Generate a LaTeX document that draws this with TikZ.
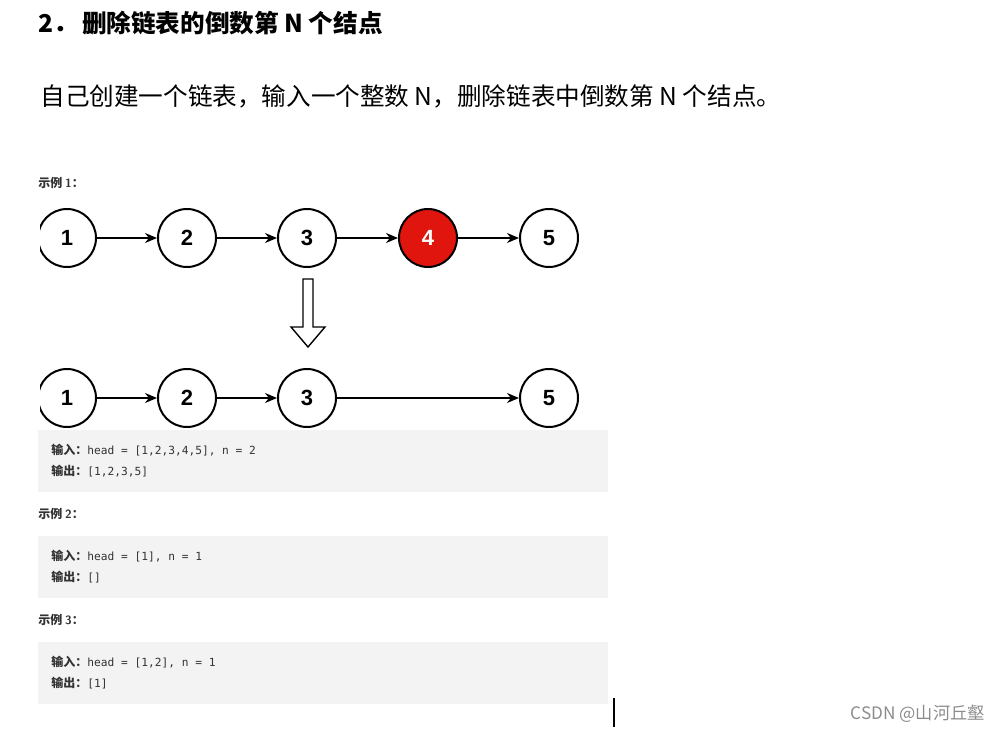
\documentclass[tikz,border=0pt]{standalone}
\usepackage{fontspec}
\setmainfont{Liberation Sans}
\setmonofont{DejaVu Sans Mono}
\newfontfamily\cjk{Noto Sans CJK SC}
\usetikzlibrary{arrows.meta,positioning}

\definecolor{boxgray}{HTML}{F3F3F3}
\definecolor{nodered}{HTML}{E0160E}
\definecolor{textgray}{HTML}{333333}

\tikzset{
  listnode/.style={circle, draw, line width=1pt, minimum size=29pt, inner sep=0pt,
    font=\bfseries\fontsize{11}{11}\selectfont},
  link/.style={-{Stealth[length=6pt,width=5pt]}, line width=0.8pt},
  codebox/.style={fill=boxgray, draw=none, anchor=north west, minimum width=285pt,
    minimum height=31pt, inner sep=0pt},
  codeline/.style={anchor=west, inner sep=0pt, text=textgray,
    font=\ttfamily\fontsize{5.6}{6}\selectfont},
  caption/.style={anchor=west, inner sep=0pt, text=textgray,
    font=\cjk\bfseries\fontsize{6}{6}\selectfont},
}

\begin{document}
\begin{tikzpicture}[x=0.5pt,y=-0.5pt]
  \useasboundingbox (0,0) rectangle (1000,732);

  % Heading and task
  \node[anchor=west, inner sep=0pt, font=\cjk\bfseries\fontsize{12.3}{12.3}\selectfont] (title) at (38,23) {2．\,删除链表的倒数第 N 个结点};
  \node[anchor=west, inner sep=0pt, font=\cjk\fontsize{12.3}{12.3}\selectfont] (task) at (40,96) {自己创建一个链表，输入一个整数 N，删除链表中倒数第 N 个结点。};

  \node[caption] (ex1) at (38,183) {示例 \textsf{1}：};

  \begin{scope}
    \clip (40,190) rectangle (620,430);

    % First list
    \foreach \x/\k in {67/1, 187/2, 307/3, 549/5} {
      \node[listnode] (a\k) at (\x,238) {\k};
    }
    \node[listnode, fill=nodered, text=white] (a4) at (428,238) {4};
    \foreach \i/\j in {1/2, 2/3, 3/4, 4/5} {
      \draw[link] (a\i) -- (a\j);
    }

    % Hollow arrow down
    \draw[line width=0.7pt] (303,279) -- (313,279) -- (313,327) -- (325,327) -- (308,347)
      -- (291,327) -- (303,327) -- cycle;

    % List after removal
    \foreach \x/\k in {67/1, 187/2, 307/3, 549/5} {
      \node[listnode] (b\k) at (\x,398) {\k};
    }
    \foreach \i/\j in {1/2, 2/3, 3/5} {
      \draw[link] (b\i) -- (b\j);
    }
  \end{scope}

  % Example blocks
  \node[caption] (ex2) at (38,514) {示例 \textsf{2}：};
  \node[caption] (ex3) at (38,620) {示例 \textsf{3}：};
  \foreach \y/\k/\inp/\outp in {430/1/{[1,2,3,4,5], n = 2}/{[1,2,3,5]},
                                536/2/{[1], n = 1}/{[]},
                                642/3/{[1,2], n = 1}/{[1]}} {
    \node[codebox] (box\k) at (38,\y) {};
    \node[codeline] (in\k) at (51,\y+20) {{\cjk\bfseries\fontsize{6}{6}\selectfont 输入：}head = \inp};
    \node[codeline] (out\k) at (51,\y+41) {{\cjk\bfseries\fontsize{6}{6}\selectfont 输出：}\outp};
  }

  % Cursor and watermark
  \draw[line width=1pt] (614,698) -- (614,727);
  \node[anchor=east, inner sep=0pt, text=black!45, font=\cjk\fontsize{8.6}{8.6}\selectfont] (mark) at (985,714) {CSDN @山河丘壑};
\end{tikzpicture}
\end{document}
